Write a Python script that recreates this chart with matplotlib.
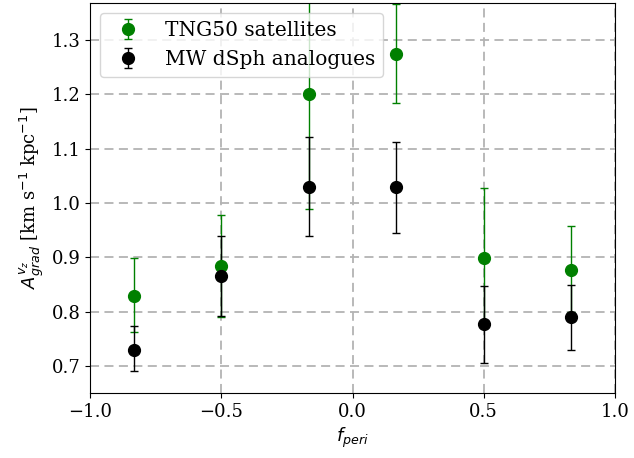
import numpy as np
import matplotlib
matplotlib.use("Agg")
import matplotlib.pyplot as plt

plt.rcParams['font.family'] = 'serif'
plt.rcParams['mathtext.fontset'] = 'dejavusans'

# bin centres in f_peri
f_peri = [-5/6, -1/2, -1/6, 1/6, 1/2, 5/6]

# TNG50 satellites
tng_y = [0.828, 0.883, 1.200, 1.275, 0.898, 0.876]
tng_lo = [0.762, 0.790, 0.988, 1.185, 0.780, 0.800]
tng_hi = [0.898, 0.977, 1.450, 1.367, 1.027, 0.958]

# MW dSph analogues
mw_y = [0.730, 0.865, 1.030, 1.030, 0.777, 0.790]
mw_lo = [0.690, 0.792, 0.940, 0.945, 0.705, 0.730]
mw_hi = [0.773, 0.940, 1.122, 1.113, 0.847, 0.849]

fig = plt.figure(figsize=(6.34, 4.58), dpi=100)
ax = fig.add_axes([0.142, 0.142, 0.828, 0.851])

tng_err = [np.array(tng_y) - np.array(tng_lo), np.array(tng_hi) - np.array(tng_y)]
mw_err = [np.array(mw_y) - np.array(mw_lo), np.array(mw_hi) - np.array(mw_y)]

ax.errorbar(f_peri, tng_y, yerr=tng_err, fmt='o', color='green', ms=8.5,
            capsize=3, elinewidth=1.0, label='TNG50 satellites')
ax.errorbar(f_peri, mw_y, yerr=mw_err, fmt='o', color='black', ms=8.5,
            capsize=3, elinewidth=1.0, label='MW dSph analogues')

ax.set_xlim(-1, 1)
ax.set_ylim(0.65, 1.368)
ax.set_xticks([-1.0, -0.5, 0.0, 0.5, 1.0])
ax.set_yticks([0.7, 0.8, 0.9, 1.0, 1.1, 1.2, 1.3])
ax.tick_params(labelsize=13)
ax.grid(True, ls=(0, (5, 3)), color='0.7', lw=1.3)
ax.set_axisbelow(True)

ax.set_xlabel(r'$f_{peri}$', fontsize=13)
ax.set_ylabel(r'$A_{grad}^{v_z}$ [km s$^{-1}$ kpc$^{-1}$]', fontsize=13)
ax.legend(loc='upper left', fontsize=14.5)

fig.savefig('out.png', dpi=100)
